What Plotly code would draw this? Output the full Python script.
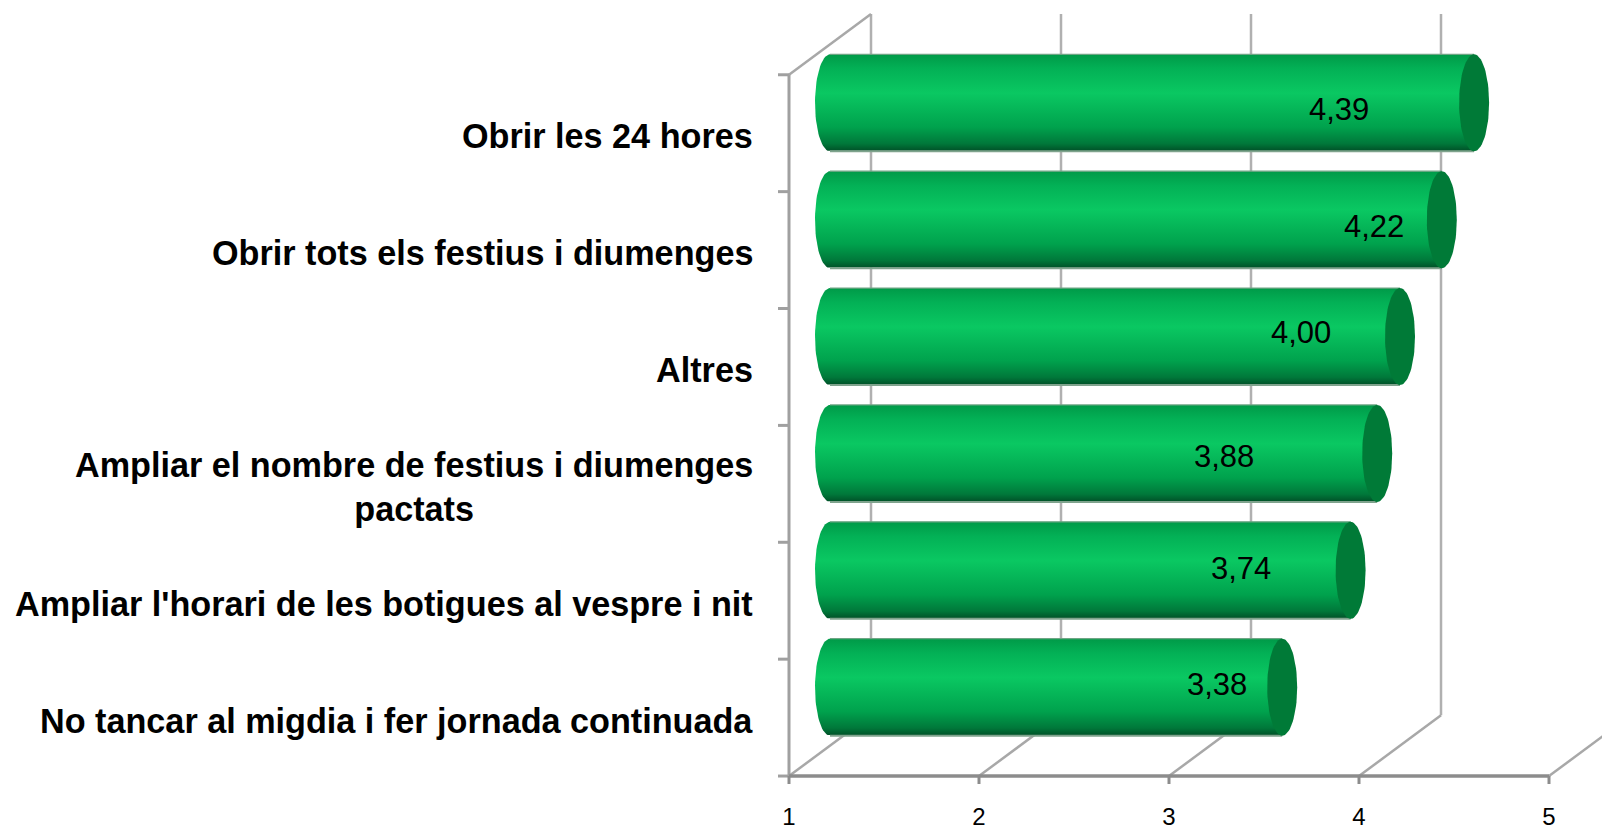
import numpy as np
import plotly.graph_objects as go

# Valoracio mitjana de les propostes d'horari (escala 1-5)
categories = [
    "No tancar al migdia i fer jornada continuada",
    "Ampliar l'horari de les botigues al vespre i nit",
    "Ampliar el nombre de festius i diumenges<br>pactats",
    "Altres",
    "Obrir tots els festius i diumenges",
    "Obrir les 24 hores",
]
values = [3.38, 3.74, 3.88, 4.00, 4.22, 4.39]
x_ticks = [1, 2, 3, 4, 5]

# label nudges (px) to sit where the original chart put them
label_xshift = [-65, -110, -153, -99, -68, -135]
label_yshift = [3, 2, -3, 4, -7, -7]

FONT = "Liberation Sans, Arial, sans-serif"
n = len(categories)

# fake 3D: depth offset of the back wall, in data units
DX, DY = 82 / 190, 61 / 117.33
H = 0.415          # half thickness of a cylinder
RX = 15 / 190      # horizontal radius of the end ellipses

fig = go.Figure()


def lines(segs, color, width):
    xs, ys = [], []
    for (xa, ya), (xb, yb) in segs:
        xs += [xa, xb, None]
        ys += [ya, yb, None]
    fig.add_trace(go.Scatter(x=xs, y=ys, mode="lines", hoverinfo="skip",
                             line=dict(color=color, width=width)))


# back wall gridlines + floor diagonals + left wall top edge
back = [((v + DX, -0.5 + DY), (v + DX, n - 0.5 + DY)) for v in x_ticks]
floor = [((v, -0.5), (v + DX, -0.5 + DY)) for v in x_ticks]
floor.append(((1, n - 0.5), (1 + DX, n - 0.5 + DY)))
lines(back, "#B0B0B0", 2.5)
lines(floor, "#A8A8A8", 2.5)

# cylinders
t_half = np.linspace(0, np.pi, 40)
t_full = np.linspace(0, 2 * np.pi, 80)
grad = [[0, "#004F27"], [0.08, "#00783A"], [0.25, "#00A24D"],
        [0.6, "#0AC862"], [0.85, "#03B156"], [1, "#009A48"]]
for i, v in enumerate(values):
    yc = i + DY / 2
    x0, x1 = 1 + DX / 2, v + DX / 2
    bx = [x0, x1, x1, x0] + list(x0 - RX * np.sin(t_half))
    by = [yc + H, yc + H, yc - H, yc - H] + list(yc - H * np.cos(t_half))
    fig.add_trace(go.Scatter(
        x=bx, y=by, mode="lines", fill="toself", line=dict(width=0),
        fillgradient=dict(type="vertical", colorscale=grad),
        hoverinfo="skip"))
    lines([((x0, yc - H), (x1, yc - H))], "#7FA38D", 2)
    lines([((x0, yc + H), (x1, yc + H))], "#6FA585", 1.2)
    fig.add_trace(go.Scatter(
        x=list(x1 + RX * np.cos(t_full)), y=list(yc + H * np.sin(t_full)),
        mode="lines", fill="toself", fillcolor="#007A37",
        line=dict(width=0), hoverinfo="skip"))
    fig.add_annotation(
        x=x1, y=yc, xref="x", yref="y", showarrow=False,
        text=f"{v:.2f}".replace(".", ","),
        xshift=label_xshift[i], yshift=label_yshift[i],
        font=dict(family=FONT, size=31, color="black"))

# front axes
lines([((1, -0.5), (1, n - 0.5))], "#A0A0A0", 3)
lines([((1 - 11 / 190, k - 0.5), (1, k - 0.5)) for k in range(n + 1)], "#A0A0A0", 3)
lines([((1, -0.5), (x_ticks[-1], -0.5))], "#8C8C8C", 3.5)
lines([((v, -0.5), (v, -0.5 - 8 / 117.33)) for v in x_ticks], "#8C8C8C", 3)

# category labels
for i, c in enumerate(categories):
    fig.add_annotation(
        x=1, y=i, xref="x", yref="y", xanchor="right", xshift=-34, yshift=-3,
        showarrow=False, align="center", text=f"<b>{c}</b>",
        font=dict(family=FONT, size=34.2, color="black"))

# the page body adds an 8px margin, so the figure is 8px smaller
fig.update_layout(
    width=1602, height=822,
    margin=dict(l=762, r=0, t=0, b=40),
    paper_bgcolor="white", plot_bgcolor="white",
    showlegend=False,
    xaxis=dict(range=[1 - 19 / 190, 1 + 821 / 190], tickvals=x_ticks,
               showgrid=False, zeroline=False, showline=False, ticks="",
               ticklabelstandoff=13,
               tickfont=dict(family=FONT, size=24, color="black")),
    yaxis=dict(range=[-0.5 - 11 / 117.33, -0.5 + 771 / 117.33],
               showgrid=False, zeroline=False, showline=False,
               showticklabels=False, ticks=""),
)

fig.write_html("out.html")
